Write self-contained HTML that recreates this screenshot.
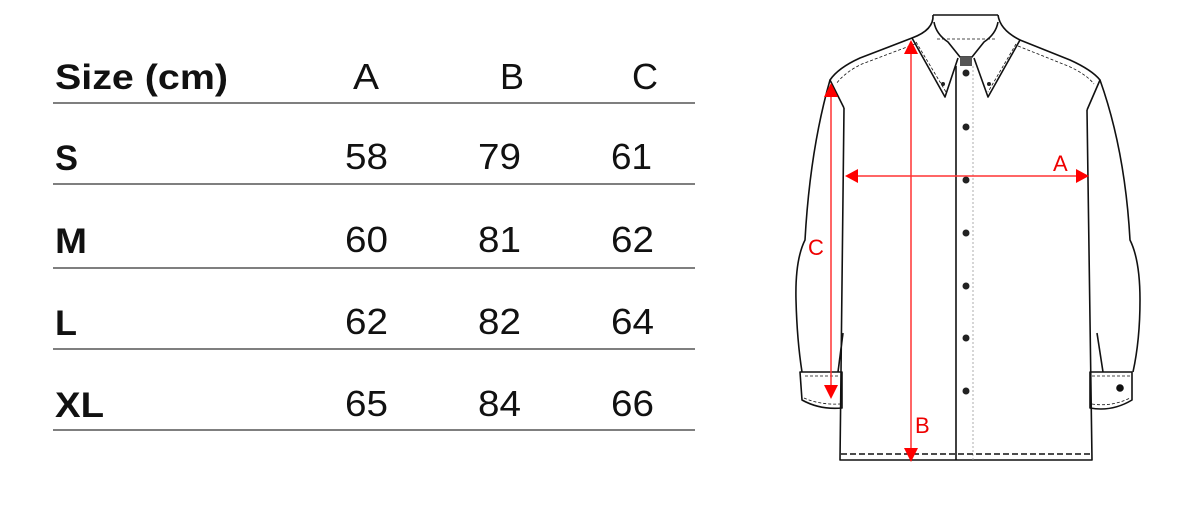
<!DOCTYPE html>
<html><head><meta charset="utf-8"><style>
html,body{margin:0;padding:0;background:#fff;width:1186px;height:524px;overflow:hidden}
svg{display:block}
.h{font-family:"Liberation Sans",sans-serif;font-weight:bold;font-size:35px;fill:#111}
.n{font-family:"Liberation Sans",sans-serif;font-size:36px;fill:#111}
.r{font-family:"Liberation Sans",sans-serif;font-size:22px;fill:#e00}
</style></head><body>
<svg width="1186" height="524" viewBox="0 0 1186 524">
<g stroke="#555" stroke-width="1.5">
<line x1="53" y1="103" x2="695" y2="103"/>
<line x1="53" y1="184" x2="695" y2="184"/>
<line x1="53" y1="268" x2="695" y2="268"/>
<line x1="53" y1="349" x2="695" y2="349"/>
<line x1="53" y1="430" x2="695" y2="430"/>
</g>
<text class="h" x="55" y="89" textLength="173" lengthAdjust="spacingAndGlyphs">Size (cm)</text>
<text class="n" x="353" y="89" textLength="26" lengthAdjust="spacingAndGlyphs">A</text>
<text class="n" x="500" y="89" textLength="24" lengthAdjust="spacingAndGlyphs">B</text>
<text class="n" x="632" y="89" textLength="26" lengthAdjust="spacingAndGlyphs">C</text>

<text class="h" x="55" y="170" textLength="23" lengthAdjust="spacingAndGlyphs">S</text>
<text class="h" x="55" y="253" textLength="32" lengthAdjust="spacingAndGlyphs">M</text>
<text class="h" x="55" y="335" textLength="22" lengthAdjust="spacingAndGlyphs">L</text>
<text class="h" x="55" y="417" textLength="49" lengthAdjust="spacingAndGlyphs">XL</text>

<g class="n">
<text x="345" y="169" textLength="43" lengthAdjust="spacingAndGlyphs">58</text>
<text x="478" y="169" textLength="43" lengthAdjust="spacingAndGlyphs">79</text>
<text x="611" y="169" textLength="41" lengthAdjust="spacingAndGlyphs">61</text>
<text x="345" y="252" textLength="43" lengthAdjust="spacingAndGlyphs">60</text>
<text x="478" y="252" textLength="43" lengthAdjust="spacingAndGlyphs">81</text>
<text x="611" y="252" textLength="43" lengthAdjust="spacingAndGlyphs">62</text>
<text x="345" y="334" textLength="43" lengthAdjust="spacingAndGlyphs">62</text>
<text x="478" y="334" textLength="43" lengthAdjust="spacingAndGlyphs">82</text>
<text x="611" y="334" textLength="43" lengthAdjust="spacingAndGlyphs">64</text>
<text x="345" y="416" textLength="43" lengthAdjust="spacingAndGlyphs">65</text>
<text x="478" y="416" textLength="43" lengthAdjust="spacingAndGlyphs">84</text>
<text x="611" y="416" textLength="43" lengthAdjust="spacingAndGlyphs">66</text>
</g>

<g fill="none" stroke="#111" stroke-width="1.6" stroke-linejoin="round">
<path d="M844 108 L840 460 L1092 460 L1087 110"/>
<path d="M912 38 L860 58 Q838 68 830 80 L844 108"/>
<path d="M1020 40 L1070 60 Q1092 70 1100 80 L1087 110"/>
<path d="M915 44 L862 64 Q845 72 836 84" stroke-width="0.8" stroke-dasharray="3 2"/>
<path d="M1018 46 L1068 66 Q1086 74 1094 84" stroke-width="0.8" stroke-dasharray="3 2"/>
<path d="M830 80 Q810 150 805 240 Q795 260 796 300 Q797 340 802 372"/>
<path d="M843 333 L838 372"/>
<path d="M800 372 L842 372 L842 408 Q820 410 802 400 Z"/>
<path d="M805 376 L840 376 M804 398 Q820 405 840 404" stroke-width="0.8" stroke-dasharray="3 2"/>
<path d="M1100 80 Q1125 150 1130 240 Q1140 260 1140 300 Q1140 340 1133 372"/>
<path d="M1097 333 L1103 372"/>
<path d="M1090 372 L1132 372 L1132 400 Q1112 412 1090 408 Z"/>
<path d="M1092 376 L1130 376 M1092 404 Q1112 407 1130 398" stroke-width="0.8" stroke-dasharray="3 2"/>
<circle cx="1120" cy="388" r="3" fill="#111"/>
<path d="M933 15 L998 15"/>
<path d="M933 15 Q934 30 912 38 L945 97 L958 58"/>
<path d="M998 15 Q1000 30 1020 40 L988 97 L974 58"/>
<path d="M934 22 Q936 34 948 42 L960 57 L972 57 L984 42 Q996 34 998 22"/>
<path d="M937 39 L995 39" stroke-width="0.8" stroke-dasharray="3 2"/>
<path d="M916 42 L946 92 M1016 44 L988 92" stroke-width="0.8" stroke-dasharray="3 2"/>
<rect x="960" y="57" width="12" height="9" fill="#555" stroke="none"/>
<line x1="956" y1="66" x2="956" y2="460"/>
<line x1="973" y1="66" x2="973" y2="460" stroke="#999" stroke-width="0.8" stroke-dasharray="2 2"/>
<line x1="841" y1="454" x2="1092" y2="454" stroke-width="1.5" stroke-dasharray="6 3"/>
</g>
<g fill="#222">
<circle cx="966" cy="73" r="3.5"/><circle cx="966" cy="127" r="3.5"/><circle cx="966" cy="180" r="3.5"/>
<circle cx="966" cy="233" r="3.5"/><circle cx="966" cy="286" r="3.5"/><circle cx="966" cy="338" r="3.5"/><circle cx="966" cy="391" r="3.5"/>
<circle cx="943" cy="84" r="2"/><circle cx="989" cy="84" r="2"/>
</g>

<g stroke="#f33" stroke-width="1.5">
<line x1="858" y1="176" x2="1076" y2="176"/>
<line x1="911" y1="54" x2="911" y2="450"/>
<line x1="831" y1="96" x2="831" y2="386"/>
</g>
<g fill="#f00">
<polygon points="845,176 858,169 858,183"/>
<polygon points="1089,176 1076,169 1076,183"/>
<polygon points="911,40 904,54 918,54"/>
<polygon points="911,462 904,448 918,448"/>
<polygon points="831,83 824,97 838,97"/>
<polygon points="831,399 824,385 838,385"/>
</g>
<text class="r" x="1053" y="171">A</text>
<text class="r" x="915" y="433">B</text>
<text class="r" x="808" y="255">C</text>
</svg>
</body></html>
